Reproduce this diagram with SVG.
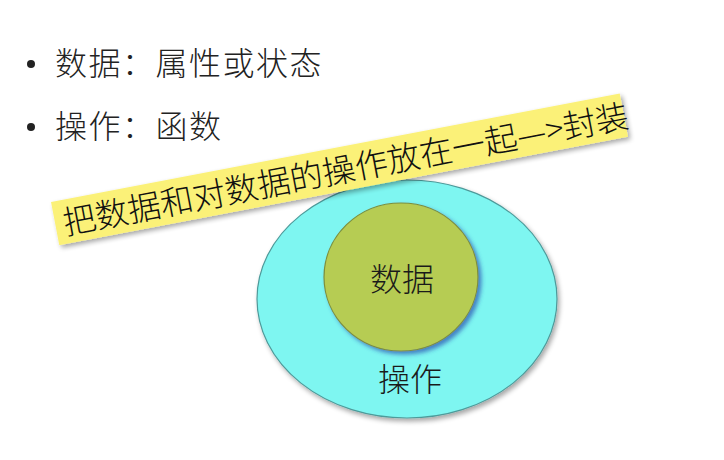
<svg xmlns="http://www.w3.org/2000/svg" width="724" height="460" viewBox="0 0 724 460">
  <defs>
    <filter id="shadow" x="-10%" y="-10%" width="130%" height="140%">
      <feGaussianBlur in="SourceAlpha" stdDeviation="2.5"/>
      <feOffset dx="2" dy="3" result="b"/>
      <feComponentTransfer><feFuncA type="linear" slope="0.35"/></feComponentTransfer>
      <feMerge><feMergeNode/><feMergeNode in="SourceGraphic"/></feMerge>
    </filter>
    <filter id="blueShadow" x="-10%" y="-10%" width="130%" height="130%">
      <feGaussianBlur in="SourceAlpha" stdDeviation="2"/>
      <feOffset dx="3" dy="3" result="o"/>
      <feFlood flood-color="#2a4fb0" flood-opacity="0.7"/>
      <feComposite in2="o" operator="in"/>
      <feMerge><feMergeNode/><feMergeNode in="SourceGraphic"/></feMerge>
    </filter>
  </defs>
  <style>
    .t { font-family: "Noto Sans CJK SC", "Noto Sans", sans-serif; font-weight: 300; fill: #222; }
    .big { font-size: 32px; letter-spacing: 1.5px; }
    .banner { font-size: 33px; fill: #111; }
    .mid { font-size: 32px; text-anchor: middle; fill: #1a1a1a; }
  </style>
  <rect width="724" height="460" fill="#ffffff"/>

  <g id="bullets">
    <circle cx="31" cy="64" r="4" fill="#222"/>
    <text class="t big" x="55" y="75">数据：属性或状态</text>
    <circle cx="31" cy="127" r="4" fill="#222"/>
    <text class="t big" x="55" y="138">操作：函数</text>
  </g>

  <g id="operations">
    <ellipse cx="407" cy="299" rx="150" ry="119" fill="#7ef6f1" stroke="#4e9a9a" stroke-width="1.2" filter="url(#shadow)"/>
    <text class="t mid" x="410" y="391">操作</text>
  </g>

  <g id="data">
    <ellipse cx="401" cy="277" rx="77" ry="74" fill="#b6cc52" stroke="#7d8f3a" stroke-width="1.2" filter="url(#blueShadow)"/>
    <text class="t mid" x="402" y="291">数据</text>
  </g>

  <g id="banner" transform="translate(51,202) rotate(-10.8)">
    <rect x="0" y="0" width="579" height="44" fill="#fbf178" filter="url(#shadow)"/>
    <text class="t banner" x="8" y="35">把数据和对数据的操作放在一起—&gt;封装</text>
  </g>

  <g id="connectors"/>
</svg>
